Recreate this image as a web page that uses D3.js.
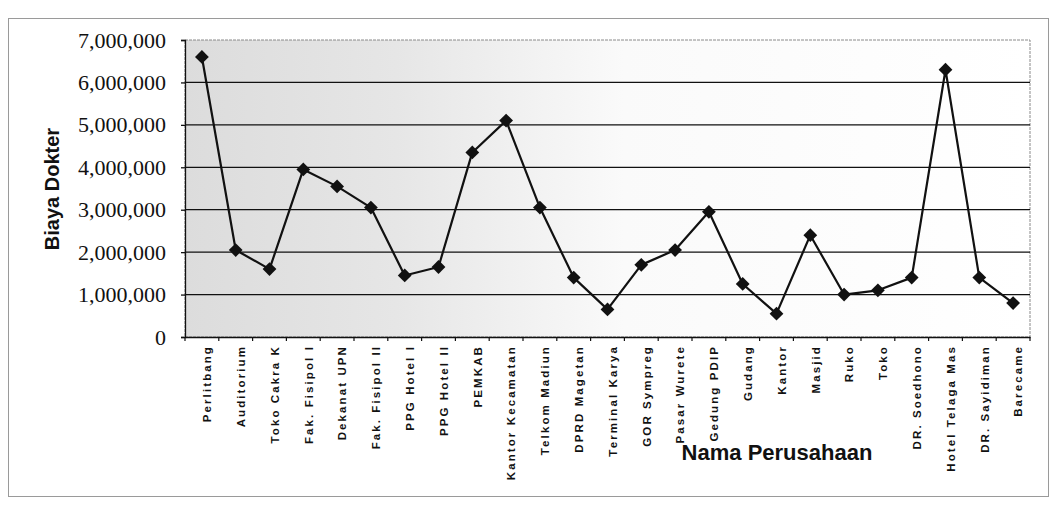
<!DOCTYPE html>
<html>
<head>
<meta charset="utf-8">
<script src="https://cdn.jsdelivr.net/npm/d3@7"></script>
<style>
  html, body { margin: 0; padding: 0; background: #fff; }
  svg { display: block; }
</style>
</head>
<body>
<div id="chart"></div>
<script>
// Biaya dokter per perusahaan
const categories = [
  "Perlitbang", "Auditorium", "Toko Cakra K", "Fak. Fisipol I", "Dekanat UPN",
  "Fak. Fisipol II", "PPG Hotel I", "PPG Hotel II", "PEMKAB", "Kantor Kecamatan",
  "Telkom Madiun", "DPRD Magetan", "Terminal Karya", "GOR Sympreg", "Pasar Wurete",
  "Gedung PDIP", "Gudang", "Kantor", "Masjid", "Ruko",
  "Toko", "DR. Soedhono", "Hotel Telaga Mas", "DR. Sayidiman", "Barecame"
];
const biayaDokter = [
  6600000, 2050000, 1600000, 3950000, 3550000,
  3050000, 1450000, 1650000, 4350000, 5100000,
  3050000, 1400000, 650000, 1700000, 2050000,
  2950000, 1250000, 550000, 2400000, 1000000,
  1100000, 1400000, 6300000, 1400000, 800000
];
const yTicks = [0, 1000000, 2000000, 3000000, 4000000, 5000000, 6000000, 7000000];
const yTitle = "Biaya Dokter";
const xTitle = "Nama Perusahaan";

const W = 1055, H = 509;
const plot = { left: 185, right: 1030, top: 40, bottom: 337 };

const svg = d3.select("#chart").append("svg")
  .attr("width", W).attr("height", H);

// chart frame
svg.append("rect")
  .attr("x", 8.5).attr("y", 18.5).attr("width", 1040).attr("height", 478)
  .attr("fill", "none").attr("stroke", "#9a9a9a").attr("stroke-width", 1);

// plot area shading: grey on the left fading to white
const defs = svg.append("defs");
const grad = defs.append("linearGradient").attr("id", "plotShade")
  .attr("x1", "0%").attr("x2", "100%").attr("y1", "0%").attr("y2", "0%");
grad.append("stop").attr("offset", "0%").attr("stop-color", "#dcdcdc");
grad.append("stop").attr("offset", "25%").attr("stop-color", "#e6e6e6");
grad.append("stop").attr("offset", "52%").attr("stop-color", "#fafafa");
grad.append("stop").attr("offset", "100%").attr("stop-color", "#ffffff");

const x = d3.scaleBand().domain(categories).range([plot.left, plot.right]).padding(0);
const y = d3.scaleLinear().domain([0, 7000000]).range([plot.bottom, plot.top]);

svg.append("rect")
  .attr("x", plot.left).attr("y", plot.top)
  .attr("width", plot.right - plot.left).attr("height", plot.bottom - plot.top)
  .attr("fill", "url(#plotShade)")
  .attr("stroke", "#8a8a8a").attr("stroke-width", 1).attr("stroke-dasharray", "3,1");

// horizontal gridlines
svg.append("g").selectAll("line")
  .data(yTicks.filter(v => v > 0 && v < 7000000))
  .join("line")
  .attr("x1", plot.left).attr("x2", plot.right)
  .attr("y1", d => y(d)).attr("y2", d => y(d))
  .attr("stroke", "#111").attr("stroke-width", 1.3);

// y axis
const fmt = d3.format(",");
const yAxis = svg.append("g")
  .attr("transform", `translate(${plot.left},0)`)
  .call(d3.axisLeft(y).tickValues(yTicks).tickFormat(fmt).tickSize(4).tickPadding(15));
yAxis.select(".domain").attr("stroke", "#111").attr("stroke-width", 1.3);
yAxis.selectAll(".tick line").attr("stroke", "#111").attr("stroke-width", 1.3);
yAxis.selectAll(".tick text")
  .attr("font-family", "'Liberation Serif', 'DejaVu Serif', serif")
  .attr("font-size", 22).attr("fill", "#111");

// x axis with ticks between categories
const xAxis = svg.append("g")
  .attr("transform", `translate(0,${plot.bottom})`)
  .call(d3.axisBottom(x).tickSize(0).tickPadding(0));
xAxis.select(".domain").attr("stroke", "#111").attr("stroke-width", 1.6);
xAxis.selectAll(".tick text")
  .attr("transform", "rotate(-90)")
  .attr("text-anchor", "end")
  .attr("x", -8).attr("y", 0).attr("dy", "0.8em")
  .attr("font-family", "'Liberation Sans', Arial, sans-serif")
  .attr("font-weight", "bold").attr("font-size", 11.5)
  .attr("letter-spacing", "2.1px")
  .attr("fill", "#111");
svg.append("g").selectAll("line")
  .data(categories.concat([null]))
  .join("line")
  .attr("x1", (d, i) => plot.left + i * x.step())
  .attr("x2", (d, i) => plot.left + i * x.step())
  .attr("y1", plot.bottom).attr("y2", plot.bottom + 4)
  .attr("stroke", "#111").attr("stroke-width", 1.2);

// series line
const pts = categories.map((c, i) => [x(c) + x.bandwidth() / 2, y(biayaDokter[i])]);
svg.append("path")
  .attr("d", d3.line()(pts))
  .attr("fill", "none").attr("stroke", "#111").attr("stroke-width", 2.2)
  .attr("stroke-linejoin", "round");

// diamond markers
const diamond = d3.symbol().type(d3.symbolSquare).size(95);
svg.append("g").selectAll("path")
  .data(pts)
  .join("path")
  .attr("d", diamond)
  .attr("transform", d => `translate(${d[0]},${d[1]}) rotate(45)`)
  .attr("fill", "#111");

// axis titles
svg.append("text")
  .attr("transform", "translate(59,189) rotate(-90)")
  .attr("text-anchor", "middle")
  .attr("font-family", "'Liberation Sans', Arial, sans-serif")
  .attr("font-weight", "bold").attr("font-size", 20).attr("fill", "#111")
  .text(yTitle);

svg.append("text")
  .attr("x", 777).attr("y", 460)
  .attr("text-anchor", "middle")
  .attr("font-family", "'Liberation Sans', Arial, sans-serif")
  .attr("font-weight", "bold").attr("font-size", 22).attr("fill", "#111")
  .text(xTitle);
</script>
</body>
</html>
